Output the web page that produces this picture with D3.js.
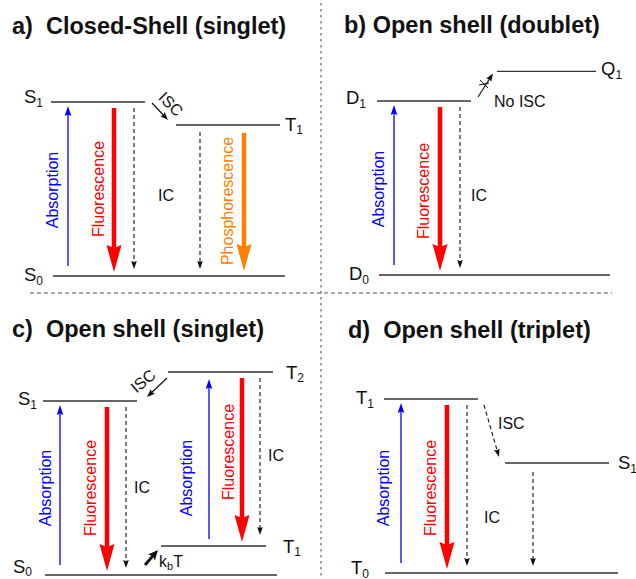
<!DOCTYPE html>
<html>
<head>
<meta charset="utf-8">
<script src="https://cdn.jsdelivr.net/npm/d3@7"></script>
<style>
  html, body { margin: 0; padding: 0; background: #fff; }
  svg { display: block; }
  text { font-family: "Liberation Sans", Arial, Helvetica, sans-serif; }
</style>
</head>
<body>
<svg id="chart" width="636" height="579"></svg>
<script>
// ---------- data ----------
const panelIds = ["a", "b", "c", "d"];
const panelTitles = [
  "a)  Closed-Shell (singlet)",
  "b) Open shell (doublet)",
  "c)  Open shell (singlet)",
  "d)  Open shell (triplet)"
];
// state symbol, subscript and relative energy (ground = 0, first excited = 1)
const stateSymbols = [["S", "S", "T"], ["D", "D", "Q"], ["S", "S", "T", "T"], ["T", "T", "S"]];
const stateIndices = [["0", "1", "1"], ["0", "1", "1"], ["0", "1", "2", "1"], ["0", "1", "1"]];
const stateEnergies = [[0, 1, 0.868], [0, 1, 1.17], [0, 1, 1.167, 0.167], [0, 1, 0.632]];
// transitions: [kind, from state, to state, label]
const transitions = [
  [["abs", 0, 1, "Absorption"], ["fluor", 1, 0, "Fluorescence"], ["ic", 1, 0, "IC"],
   ["isc", 1, 2, "ISC"], ["ic", 2, 0, ""], ["phos", 2, 0, "Phosphorescence"]],
  [["abs", 0, 1, "Absorption"], ["fluor", 1, 0, "Fluorescence"], ["ic", 1, 0, "IC"],
   ["noisc", 1, 2, "No ISC"]],
  [["abs", 0, 1, "Absorption"], ["fluor", 1, 0, "Fluorescence"], ["ic", 1, 0, "IC"],
   ["isc", 2, 1, "ISC"], ["abs", 3, 2, "Absorption"], ["fluor", 2, 3, "Fluorescence"],
   ["ic", 2, 3, "IC"], ["kbt", 0, 3, "kbT"]],
  [["abs", 0, 1, "Absorption"], ["fluor", 1, 0, "Fluorescence"], ["ic", 1, 0, "IC"],
   ["iscd", 1, 2, "ISC"], ["ic", 2, 0, ""]]
];

// ---------- layout ----------
const W = 636, H = 579, unit = 174;
const panelOrigin = [[0, 276], [326, 275], [-8, 575], [333, 573]];
const titlePos = [[12, 34], [344, 33], [12, 337], [348, 338]];
// level extents in panel-local x, side / gap of the state label, label baseline offset
const levelLayout = [
  [[53, 285, "l", 10, 5], [51, 145, "l", 8, 1], [176, 280, "r", 5, 6]],
  [[53, 284, "l", 10, 5], [51, 145, "l", 11, 3], [171, 270, "r", 5, 4]],
  [[53, 285, "l", 13, -2.5], [51, 145, "l", 6, 4], [176, 281, "r", 13, 7], [169, 274, "r", 17, 7]],
  [[52, 285, "l", 16, 1], [51, 145, "l", 10, 5], [172, 276, "r", 9, 6]]
];
// per transition: vertical lane x or diagonal endpoints, plus label placement
const transLayout = [
  [{ lane: 68, lx: 53, ly: 190, rot: -90 }, { lane: 114, lx: 99, ly: 189, rot: -90 },
   { lane: 134, lx: 158, ly: 201 }, { p0: [152, 1], p1: [168, -5], lx: 171, ly: 104, rot: 45 },
   { lane: 200, s0: 7 }, { lane: 244, lx: 228, ly: 201, rot: -90 }],
  [{ lane: 68, lx: 53, ly: 189, rot: -90 }, { lane: 114, lx: 98, ly: 191, rot: -90 },
   { lane: 134, lx: 145, ly: 201 }, { p0: [152, -4], p1: [167, 2], lx: 168, ly: 107 }],
  [{ lane: 68, lx: 54, ly: 488, rot: -90 }, { lane: 115, lx: 99, ly: 488, rot: -90 },
   { lane: 134, lx: 142, ly: 493 }, { p0: [175, 6], p1: [155, -4], lx: 151, ly: 381, rot: -40 },
   { lane: 217, lx: 195, ly: 478, rot: -90, s0: 7, e0: 7 }, { lane: 250, lx: 237, ly: 452, rot: -90 },
   { lane: 268, lx: 276, ly: 461, e0: 11 }, { p0: [153, -10], p1: [166, 4], lx: 167, ly: 567 }],
  [{ lane: 68, lx: 51, ly: 488, rot: -90 }, { lane: 114, lx: 98, ly: 488, rot: -90 },
   { lane: 134, lx: 151, ly: 523 }, { p0: [151, 6], p1: [166, -6], lx: 165, ly: 429 },
   { lane: 200, s0: 9 }]
];
// arrow styles: colour, stroke width, dash, head length / half-width / notch, start & end gaps
const arrowStyle = {
  abs:   { color: "#0000ff", w: 1.3, dash: null, hl: 10, hw: 3.3, notch: 1.5, s0: 10, e0: 4 },
  fluor: { color: "#ff0000", w: 4.5, dash: null, hl: 27, hw: 7.5, notch: 3, s0: 6, e0: 4 },
  phos:  { color: "#ff8000", w: 4.5, dash: null, hl: 27, hw: 7.5, notch: 3, s0: 8, e0: 5 },
  ic:    { color: "#111", w: 1.1, dash: "4,3", hl: 8, hw: 2.8, notch: 1, s0: 6, e0: 7 },
  isc:   { color: "#111", w: 1.2, dash: null, hl: 8, hw: 3, notch: 1 },
  iscd:  { color: "#111", w: 1.1, dash: "4,3", hl: 8, hw: 2.8, notch: 1 },
  noisc: { color: "#111", w: 1.1, dash: null, hl: 8, hw: 3, notch: 1 },
  kbt:   { color: "#111", w: 3, dash: null, hl: 10, hw: 4.5, notch: 2 }
};
const labelColor = { abs: "#0000ff", fluor: "#ff0000", phos: "#ff8000" };

const svg = d3.select("#chart");

// panel separators
svg.append("line")
  .attr("x1", 321).attr("x2", 321).attr("y1", 3).attr("y2", H)
  .attr("stroke", "#555").attr("stroke-width", 1.1).attr("stroke-dasharray", "2.5,3.5");
svg.append("line")
  .attr("x1", 30).attr("x2", 612).attr("y1", 293).attr("y2", 293)
  .attr("stroke", "#555").attr("stroke-width", 1.1).attr("stroke-dasharray", "4,3");

function arrowHead(g, tip, u, st) {
  const n = [-u[1], u[0]];
  const b = [tip[0] - st.hl * u[0], tip[1] - st.hl * u[1]];
  const m = [tip[0] - (st.hl - st.notch) * u[0], tip[1] - (st.hl - st.notch) * u[1]];
  const pts = [tip, [b[0] + st.hw * n[0], b[1] + st.hw * n[1]], m, [b[0] - st.hw * n[0], b[1] - st.hw * n[1]]];
  g.append("path").attr("d", d3.line()(pts) + "Z").attr("fill", st.color).attr("stroke", "none");
}

function drawArrow(g, p0, p1, st) {
  const dx = p1[0] - p0[0], dy = p1[1] - p0[1];
  const len = Math.hypot(dx, dy);
  const u = [dx / len, dy / len];
  const stop = st.hl - st.notch - 0.5;
  g.append("line")
    .attr("x1", p0[0]).attr("y1", p0[1])
    .attr("x2", p1[0] - stop * u[0]).attr("y2", p1[1] - stop * u[1])
    .attr("stroke", st.color).attr("stroke-width", st.w)
    .attr("stroke-dasharray", st.dash);
  arrowHead(g, p1, u, st);
}

panelIds.forEach((id, pi) => {
  const [ox, base] = panelOrigin[pi];
  const x = d3.scaleLinear().domain([0, 300]).range([ox, ox + 300]);
  const y = d3.scaleLinear().domain([0, 1]).range([base, base - unit]);
  const g = svg.append("g").attr("class", "panel-" + id);

  // title
  g.append("text")
    .attr("x", titlePos[pi][0]).attr("y", titlePos[pi][1])
    .attr("xml:space", "preserve").style("white-space", "pre")
    .attr("font-size", 23.5).attr("font-weight", "bold").attr("fill", "#111")
    .text(panelTitles[pi]);

  // energy levels
  stateEnergies[pi].forEach((e, si) => {
    const [x0, x1, side, gap, dy] = levelLayout[pi][si];
    const ly = y(e);
    g.append("line")
      .attr("x1", x(x0)).attr("x2", x(x1)).attr("y1", ly).attr("y2", ly)
      .attr("stroke", "#333").attr("stroke-width", 1.4);
    const t = g.append("text")
      .attr("x", side === "l" ? x(x0 - gap) : x(x1 + gap))
      .attr("y", ly + dy)
      .attr("text-anchor", side === "l" ? "end" : "start")
      .attr("font-size", 18.5).attr("fill", "#111");
    t.append("tspan").text(stateSymbols[pi][si]);
    t.append("tspan").attr("font-size", 12).attr("dy", 3.5).text(stateIndices[pi][si]);
  });

  // transitions
  transitions[pi].forEach((tr, ti) => {
    const [kind, from, to, label] = tr;
    const L = transLayout[pi][ti];
    const st = arrowStyle[kind];
    const yFrom = y(stateEnergies[pi][from]);
    const yTo = y(stateEnergies[pi][to]);
    let p0, p1;
    if (L.lane !== undefined) {
      const dir = yTo < yFrom ? -1 : 1; // -1 upward
      const s0 = L.s0 !== undefined ? L.s0 : st.s0;
      const e0 = L.e0 !== undefined ? L.e0 : st.e0;
      if (dir < 0) {
        p0 = [x(L.lane), yFrom - s0];
        p1 = [x(L.lane), yTo + e0];
      } else {
        p0 = [x(L.lane), yFrom + s0];
        p1 = [x(L.lane), yTo - e0];
      }
    } else {
      p0 = [x(L.p0[0]), yFrom + L.p0[1]];
      p1 = [x(L.p1[0]), yTo + L.p1[1]];
    }
    drawArrow(g, p0, p1, st);

    if (kind === "noisc") {
      // crossing strokes marking the forbidden path
      const cx = x(158), cy = yFrom - 17;
      g.append("line").attr("x1", cx - 4).attr("y1", cy - 4).attr("x2", cx + 4).attr("y2", cy + 4)
        .attr("stroke", "#111").attr("stroke-width", 1);
      g.append("line").attr("x1", cx - 5).attr("y1", cy + 1).attr("x2", cx + 5).attr("y2", cy - 1)
        .attr("stroke", "#111").attr("stroke-width", 1);
    }

    if (!label) return;
    if (L.rot !== undefined) {
      g.append("text")
        .attr("transform", `translate(${x(L.lx)},${L.ly}) rotate(${L.rot})`)
        .attr("text-anchor", "middle").attr("dy", L.rot === -90 ? "0.3em" : "0.35em")
        .attr("font-size", 16).attr("fill", labelColor[kind] || "#111")
        .text(label);
    } else if (kind === "kbt") {
      const t = g.append("text").attr("x", x(L.lx)).attr("y", L.ly)
        .attr("font-size", 16).attr("fill", "#111");
      t.append("tspan").text("k");
      t.append("tspan").attr("font-size", 11).attr("dy", 3).text("b");
      t.append("tspan").attr("dy", -3).text("T");
    } else {
      g.append("text").attr("x", x(L.lx)).attr("y", L.ly)
        .attr("font-size", 16).attr("fill", "#111").text(label);
    }
  });
});
</script>
</body>
</html>
